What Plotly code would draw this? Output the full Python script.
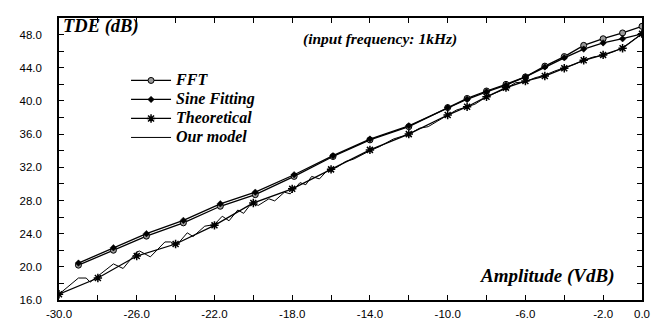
import plotly.graph_objects as go

# ---- data ----
fft_x = [-29.0, -27.2, -25.5, -23.6, -21.7, -19.9, -17.9, -15.9, -14.0, -12.0, -10.0,
         -9.0, -8.0, -7.0, -6.0, -5.0, -4.0, -3.0, -2.0, -1.0, 0.0]
fft_y = [20.2, 22.0, 23.7, 25.3, 27.3, 28.7, 30.9, 33.3, 35.3, 36.9, 39.2,
         40.3, 41.2, 42.0, 42.9, 44.2, 45.35, 46.7, 47.5, 48.2, 49.0]

sine_x = fft_x
sine_y = [20.45, 22.3, 24.0, 25.6, 27.6, 29.0, 31.1, 33.4, 35.4, 37.0, 39.2,
          40.2, 41.1, 41.9, 42.9, 44.1, 45.2, 46.25, 47.0, 47.5, 48.1]

theo_x = [-30, -28, -26, -24, -22, -20, -18, -16, -14, -12, -10,
          -9, -8, -7, -6, -5, -4, -3, -2, -1, 0]
theo_y = [16.7, 18.65, 21.3, 22.75, 25.0, 27.7, 29.4, 31.75, 34.1, 36.0, 38.3,
          39.3, 40.5, 41.6, 42.4, 43.0, 43.95, 44.9, 45.55, 46.35, 48.1]

model_x = [-30.0, -29.0, -28.6, -28.4, -27.2, -26.7, -26.0, -25.85, -25.3, -24.55, -24.25,
           -23.95, -23.4, -23.1, -22.5, -22.0, -21.6, -21.25, -20.8, -20.5, -20.05, -19.75,
           -19.2, -18.9, -18.4, -18.1, -17.6, -17.3, -17.0, -16.6, -16.2, -15.7, -15.25,
           -14.85, -14.0, -13.5, -12.8, -12.0, -11.45, -11.0, -10.5, -10.0, -9.55, -9.0,
           -8.6, -8.0, -7.5, -7.0, -6.5, -6.0, -5.5, -5.0, -4.5, -4.0, -3.5, -3.0, -2.5,
           -2.0, -1.5, -1.0, -0.5, 0.0]
model_y = [16.7, 18.65, 18.65, 18.15, 20.35, 19.8, 21.8, 21.9, 21.2, 23.0, 23.0,
           22.6, 24.1, 23.65, 24.9, 25.1, 26.1, 25.55, 26.85, 26.45, 27.8, 27.4,
           28.2, 27.95, 29.0, 28.8, 30.15, 29.9, 30.9, 30.6, 31.6, 32.0, 32.7,
           32.97, 34.0, 34.5, 35.4, 36.0, 36.7, 36.9, 37.6, 38.3, 38.9, 39.3,
           39.6, 40.5, 41.0, 41.5, 42.2, 42.3, 42.8, 43.1, 43.6, 44.0, 44.4, 44.9, 45.3,
           45.5, 45.9, 46.4, 47.2, 48.1]

x_tickvals = list(range(-30, 1, 2))
x_ticktext = ["-30.0", "", "-26.0", "", "-22.0", "", "-18.0", "", "-14.0", "",
              "-10.0", "", "-6.0", "", "-2.0", "0.0"]
y_tickvals = list(range(16, 51, 2))
y_ticktext = ["16.0", "", "20.0", "", "24.0", "", "28.0", "", "32.0", "", "36.0", "",
              "40.0", "", "44.0", "", "48.0", ""]

series_names = ["FFT", "Sine Fitting", "Theoretical", "Our model"]

serif = "Liberation Serif, Times New Roman, serif"
sans = "Liberation Sans, Arial, sans-serif"


def legend_label(s):
    return '<span style="font-size:16px"><b><i>' + s + '</i></b></span>'


fig = go.Figure()
fig.add_trace(go.Scatter(
    x=fft_x, y=fft_y, name=legend_label(series_names[0]), mode="lines+markers",
    line=dict(color="black", width=1.3),
    marker=dict(symbol="circle", size=6, color="#9a9a9a", line=dict(color="black", width=1))))
fig.add_trace(go.Scatter(
    x=sine_x, y=sine_y, name=legend_label(series_names[1]), mode="lines+markers",
    line=dict(color="black", width=1.3),
    marker=dict(symbol="diamond", size=5, color="black", line=dict(color="black", width=0.5))))
fig.add_trace(go.Scatter(
    x=theo_x, y=theo_y, name=legend_label(series_names[2]), mode="lines+markers",
    line=dict(color="black", width=1.3),
    marker=dict(symbol="asterisk-open", size=7, color="black", line=dict(color="black", width=1.5))))
fig.add_trace(go.Scatter(
    x=model_x, y=model_y, name=legend_label(series_names[3]), mode="lines",
    line=dict(color="black", width=1)))

axis_common = dict(
    showline=True, linecolor="black", linewidth=1.5, mirror="ticks",
    ticks="inside", ticklen=5, tickwidth=1.2, tickcolor="black",
    showgrid=False, zeroline=False, tickmode="array",
    tickfont=dict(family=sans, size=11.5, color="black"),
)

fig.update_layout(
    width=665, height=320,
    margin=dict(l=51, r=31, t=8, b=20),
    paper_bgcolor="white", plot_bgcolor="white",
    showlegend=True,
    legend=dict(x=0.115, y=0.83, xanchor="left", yanchor="top",
                bgcolor="rgba(0,0,0,0)", font=dict(family=serif, size=11, color="black"),
                tracegroupgap=0, itemwidth=40),
    xaxis=dict(range=[-30, 0], tickvals=x_tickvals, ticktext=x_ticktext,
               ticklabelstandoff=2, **axis_common),
    yaxis=dict(range=[16, 50], tickvals=y_tickvals, ticktext=y_ticktext,
               ticklabelstandoff=13, **axis_common),
    annotations=[
        dict(text="<b><i>TDE (dB)</i></b>", xref="paper", yref="paper", x=0.004, y=0.97,
             xanchor="left", yanchor="middle", showarrow=False,
             font=dict(family=serif, size=18.5, color="black")),
        dict(text="<b><i>(input frequency: 1kHz)</i></b>", xref="paper", yref="paper",
             x=0.55, y=0.925, xanchor="center", yanchor="middle", showarrow=False,
             font=dict(family=serif, size=15.5, color="black")),
        dict(text="<b><i>Amplitude (VdB)</i></b>", xref="paper", yref="paper", x=0.957, y=0.085,
             xanchor="right", yanchor="middle", showarrow=False,
             font=dict(family=serif, size=19, color="black")),
    ],
)

fig.write_html("out.html")
